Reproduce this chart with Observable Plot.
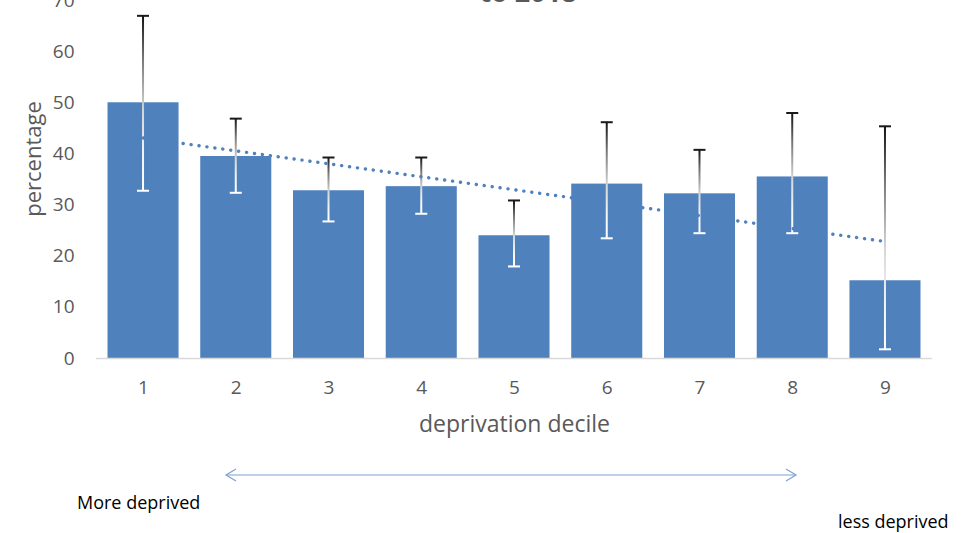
<!DOCTYPE html>
<html>
<head>
<meta charset="utf-8">
<script src="https://cdn.jsdelivr.net/npm/d3@7"></script>
<script src="https://cdn.jsdelivr.net/npm/@observablehq/plot@0.6"></script>
<style>
  html, body { margin: 0; padding: 0; background: #fff; }
  #wrap { position: relative; width: 970px; height: 533px; overflow: hidden; font-family: "Open Sans", sans-serif; }
  #title { position: absolute; left: 0; width: 1056px; text-align: center; top: -22px; font-size: 27px; font-weight: bold; color: #595959; line-height: 27px; }
  #ylabel { position: absolute; left: 32px; top: 159px; transform: translate(-50%, -50%) rotate(-90deg); font-size: 22px; color: #595959; white-space: nowrap; }
  .note { position: absolute; font-size: 18px; color: #000; white-space: nowrap; line-height: 22px; }
  #chart { position: absolute; left: 0; top: 0; }
</style>
</head>
<body>
<svg width="0" height="0" style="position:absolute">
  <defs>
    <linearGradient id="errGrad" x1="0" y1="0" x2="0" y2="1">
      <stop offset="0%" stop-color="#111111"/>
      <stop offset="25%" stop-color="#777777"/>
      <stop offset="55%" stop-color="#d6d6d6"/>
      <stop offset="80%" stop-color="#f4f4f4"/>
      <stop offset="100%" stop-color="#ffffff"/>
    </linearGradient>
  </defs>
</svg>
<div id="wrap">
  <div id="chart"></div>
  <div id="title">to 2018</div>
  <div id="ylabel">percentage</div>
  <svg id="arrow" width="970" height="533" style="position:absolute;left:0;top:0;pointer-events:none">
    <g stroke="#7f9fd6" stroke-width="1.2" fill="none">
      <line x1="226" y1="475" x2="796" y2="475"/>
      <polyline points="236,469 226,475 236,481"/>
      <polyline points="786,469 796,475 786,481"/>
    </g>
  </svg>
  <div class="note" style="left:77px; top:491px;">More deprived</div>
  <div class="note" style="left:838px; top:510px;">less deprived</div>
</div>
<script>
// ---- data ----
const deciles = [1, 2, 3, 4, 5, 6, 7, 8, 9];
const values  = [50.0, 39.5, 32.8, 33.6, 24.0, 34.1, 32.2, 35.5, 15.2];
const lower   = [32.8, 32.4, 26.8, 28.3, 18.0, 23.5, 24.5, 24.5, 1.8];
const upper   = [67.0, 46.9, 39.3, 39.3, 30.9, 46.2, 40.8, 48.0, 45.4];
const yTicks  = [0, 10, 20, 30, 40, 50, 60, 70];

const data = deciles.map((d, i) => ({decile: d, value: values[i], lo: lower[i], hi: upper[i]}));

// linear trendline (least squares over bar values)
const n = deciles.length;
const mx = d3.mean(deciles), my = d3.mean(values);
const sxy = d3.sum(deciles, (d, i) => (d - mx) * (values[i] - my));
const sxx = d3.sum(deciles, d => (d - mx) ** 2);
const slope = sxy / sxx, icpt = my - slope * mx;
const trend = deciles.map(d => ({decile: d, fit: icpt + slope * d}));

// layout
const width = 970, height = 440;
const mL = 96, mR = 38, mT = 0, mB = 82;
const pI = 0.234, pO = 0.124;
const step = (width - mL - mR) / (n - pI + 2 * pO);
const bw = step * (1 - pI);
const errInset = (bw - 2) / 2;
const capInset = (bw - 12) / 2;

const chart = Plot.plot({
  width, height,
  marginTop: mT, marginLeft: mL, marginRight: mR, marginBottom: mB,
  style: {fontFamily: "'Open Sans', sans-serif", fontSize: "19px", color: "#595959", background: "transparent", overflow: "visible"},
  x: {type: "band", domain: deciles, paddingInner: pI, paddingOuter: pO, round: false},
  y: {domain: [0, 70]},
  marks: [
    Plot.barY(data, {x: "decile", y: "value", fill: "#4f81bd"}),
    Plot.ruleY([0], {stroke: "#d9d9d9", strokeWidth: 1.5}),
    Plot.barY(data, {x: "decile", y1: "lo", y2: "hi", fill: "url(#errGrad)", insetLeft: errInset, insetRight: errInset}),
    Plot.tickY(data, {x: "decile", y: "hi", stroke: "#1a1a1a", strokeWidth: 2, insetLeft: capInset, insetRight: capInset}),
    Plot.tickY(data, {x: "decile", y: "lo", stroke: "#ffffff", strokeWidth: 2, insetLeft: capInset, insetRight: capInset}),
    Plot.line(trend, {x: "decile", y: "fit", stroke: "#4f81bd", strokeWidth: 3.4, strokeDasharray: "0.1 7.9", strokeLinecap: "round"}),
    Plot.axisX({tickSize: 0, tickPadding: 22, fontSize: 19, label: null}),
    Plot.axisX({tickSize: 0, ticks: [], fontSize: 23, label: "deprivation decile", labelAnchor: "center", labelOffset: 73, labelArrow: "none"}),
    Plot.axisY({ticks: yTicks, tickSize: 0, tickPadding: 22, fontSize: 19, label: null})
  ]
});
document.getElementById("chart").appendChild(chart);
</script>
</body>
</html>
